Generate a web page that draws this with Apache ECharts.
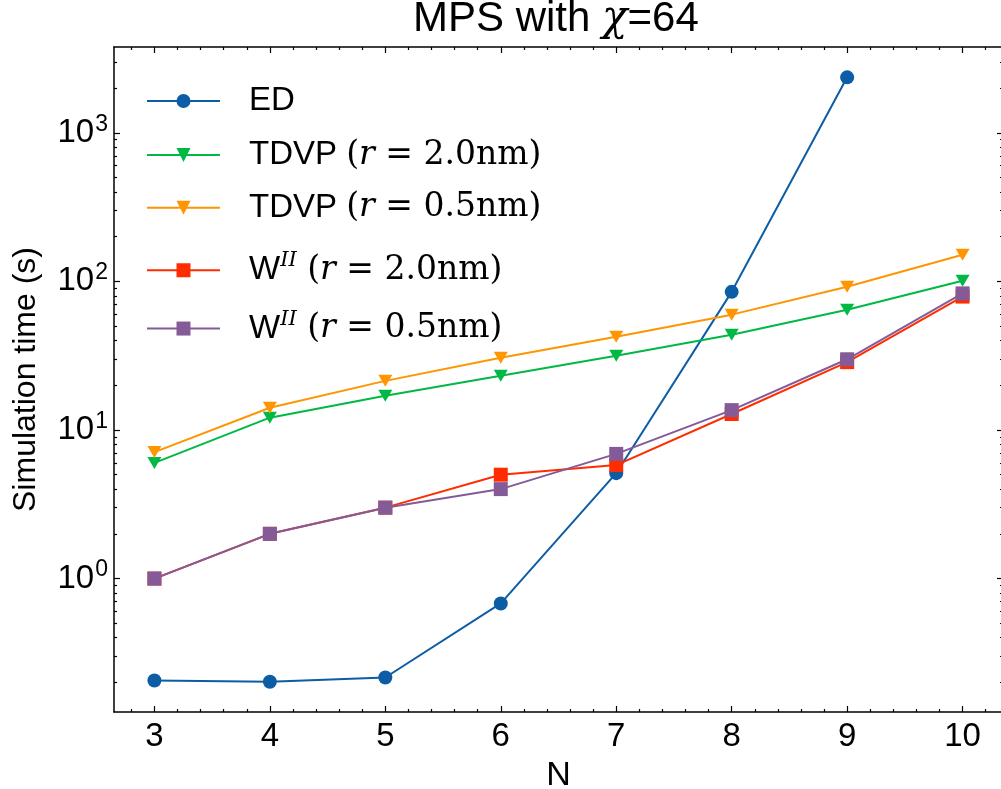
<!DOCTYPE html>
<html><head><meta charset="utf-8">
<script src="https://cdn.jsdelivr.net/npm/echarts@6/dist/echarts.min.js"></script>
<style>html,body{margin:0;padding:0;background:#fff}#c{width:1001px;height:789px}</style>
</head><body><div id="c"></div>
<script>
// ---- data ----
const N = [3, 4, 5, 6, 7, 8, 9, 10];
const edN = [3, 4, 5, 6, 7, 8, 9];
const edTime = [0.206, 0.202, 0.216, 0.68, 5.12, 85, 2360];
const tdvp20Time = [6.0, 12.1, 17.0, 23.2, 31.6, 43.7, 64.5, 101];
const tdvp05Time = [7.1, 14.1, 21.4, 30.6, 42.4, 59.7, 92, 151];
const w20Time = [1.0, 2.0, 3.0, 5.0, 5.8, 12.8, 28.6, 79];
const w05Time = [1.0, 2.0, 3.0, 4.0, 6.9, 13.6, 29.9, 83];
const seriesNames = ['ED', 'TDVP (r=2.0nm)', 'TDVP (r=0.5nm)', 'WII (r=2.0nm)', 'WII (r=0.5nm)'];
const xTicks = [3, 4, 5, 6, 7, 8, 9, 10];
const yTicks = [1, 10, 100, 1000];
const colors = ['#0C5DA5', '#00B945', '#FF9500', '#FF2C00', '#845B97'];

// ---- axis ranges / minor ticks ----
const xMin = 2.65, xMax = 10.35;
const yMin = 0.1265, yMax = 3776;
const xMinor = [];
for (let v = 28; v <= 102; v += 2) { if (v % 10 !== 0) xMinor.push(v / 10); }
const yMinor = [];
[0.1, 1, 10, 100, 1000].forEach(d => { for (let k = 2; k <= 9; k++) { const v = k * d; if (v >= yMin && v <= yMax) yMinor.push(v); } });

const SANS = 'Liberation Sans';
const SERIF = 'DejaVu Serif';
const axLine = { show: true, lineStyle: { color: '#000', width: 1.5 } };

function xAx(pos, ticks, len, showLine, labels) {
  return {
    type: 'value', min: xMin, max: xMax, position: pos, offset: 0,
    axisLine: showLine ? axLine : { show: false },
    axisTick: { show: true, inside: true, length: len, customValues: ticks, lineStyle: { color: '#000', width: 1.2 } },
    axisLabel: labels ? { show: true, customValues: ticks, fontSize: 33, fontFamily: SANS, color: '#000', margin: 8 } : { show: false },
    splitLine: { show: false }, minorTick: { show: false }
  };
}
function yAx(pos, ticks, len, showLine, labels) {
  return {
    type: 'log', logBase: 10, min: yMin, max: yMax, position: pos, offset: 0,
    axisLine: showLine ? axLine : { show: false },
    axisTick: { show: true, inside: true, length: len, customValues: ticks, lineStyle: { color: '#000', width: 1.2 } },
    axisLabel: labels ? {
      show: true, customValues: ticks, margin: 6,
      formatter: v => '{b|10}{s|' + Math.round(Math.log10(v)) + '}',
      rich: {
        b: { fontSize: 33, fontFamily: SANS, color: '#000', lineHeight: 40 },
        s: { fontSize: 23, fontFamily: SANS, color: '#000', lineHeight: 40, verticalAlign: 'top', padding: [0, 0, 0, 1] }
      }
    } : { show: false },
    splitLine: { show: false }, minorTick: { show: false }
  };
}

const xAxes = [xAx('bottom', xTicks, 6, true, true), xAx('bottom', xMinor, 3, false, false),
               xAx('top', xTicks, 6, true, false), xAx('top', xMinor, 3, false, false)];
Object.assign(xAxes[0], { name: 'N', nameLocation: 'middle', nameGap: 47,
  nameTextStyle: { fontSize: 34, fontFamily: SANS, color: '#000' } });
const yAxes = [yAx('left', yTicks, 6, true, true), yAx('left', yMinor, 3, false, false),
               yAx('right', yTicks, 6, true, false), yAx('right', yMinor, 3, false, false)];
Object.assign(yAxes[0], { name: 'Simulation time (s)', nameLocation: 'middle', nameGap: 72,
  nameTextStyle: { fontSize: 32, fontFamily: SANS, color: '#000' } });

const symbols = [
  { symbol: 'circle', symbolSize: 14, symbolRotate: 0 },
  { symbol: 'triangle', symbolSize: [14, 12], symbolRotate: 180 },
  { symbol: 'triangle', symbolSize: [14, 12], symbolRotate: 180 },
  { symbol: 'rect', symbolSize: 14, symbolRotate: 0 },
  { symbol: 'rect', symbolSize: 14, symbolRotate: 0 }
];
const xsList = [edN, N, N, N, N];
const ysList = [edTime, tdvp20Time, tdvp05Time, w20Time, w05Time];
const series = seriesNames.map((name, i) => Object.assign({
  name, type: 'line', xAxisIndex: 0, yAxisIndex: 0,
  data: xsList[i].map((x, j) => [x, ysList[i][j]]),
  lineStyle: { color: colors[i], width: 2 },
  itemStyle: { color: colors[i], borderWidth: 0 },
  showAllSymbol: true, animation: false, z: 2 + i
}, symbols[i]));

const legendRich = {
  sp: { width: 24 },
  t: { fontSize: 33, fontFamily: SANS, color: '#000', lineHeight: 40 },
  m: { fontSize: 33, fontFamily: SERIF, color: '#000', lineHeight: 40 },
  i: { fontSize: 33, fontFamily: SERIF, fontStyle: 'italic', color: '#000', lineHeight: 40 },
  u: { fontSize: 21, fontFamily: SERIF, fontStyle: 'italic', color: '#000', lineHeight: 40, verticalAlign: 'top' }
};
function legendLabel(name) {
  if (name === 'ED') return '{sp| }{t|ED}';
  const r = name.indexOf('2.0') >= 0 ? '2.0' : '0.5';
  if (name.startsWith('TDVP')) return '{sp| }{t|TDVP }{m|(}{i|r}{m| = ' + r + 'nm)}';
  return '{sp| }{t|W}{u|II}{m| (}{i|r}{m| = ' + r + 'nm)}';
}
const legendRows = [93.3, 147.3, 200, 259, 317.3];
const itemH = 17.5;
const legends = seriesNames.map((name, i) => ({
  data: [name], left: 146, top: legendRows[i] - itemH / 2, padding: 0,
  itemWidth: 73, itemHeight: itemH, selectedMode: false,
  formatter: legendLabel, textStyle: { rich: legendRich }
}));

const chart = echarts.init(document.getElementById('c'));
chart.setOption({
  animation: false,
  backgroundColor: '#fff',
  title: {
    text: '{a|MPS with }{c|χ}{a|=64}', left: 413, top: -4, padding: 0,
    textStyle: { rich: {
      a: { fontSize: 42, fontFamily: SANS, fontWeight: 'normal', color: '#000', lineHeight: 46 },
      c: { fontSize: 42, fontFamily: SERIF, fontStyle: 'italic', fontWeight: 'normal', color: '#000', lineHeight: 46 }
    } }
  },
  grid: { left: 114, right: -2, top: 47, bottom: 77, containLabel: false, outerBoundsMode: 'none' },
  legend: legends,
  xAxis: xAxes,
  yAxis: yAxes,
  series
});
</script>
</body></html>
